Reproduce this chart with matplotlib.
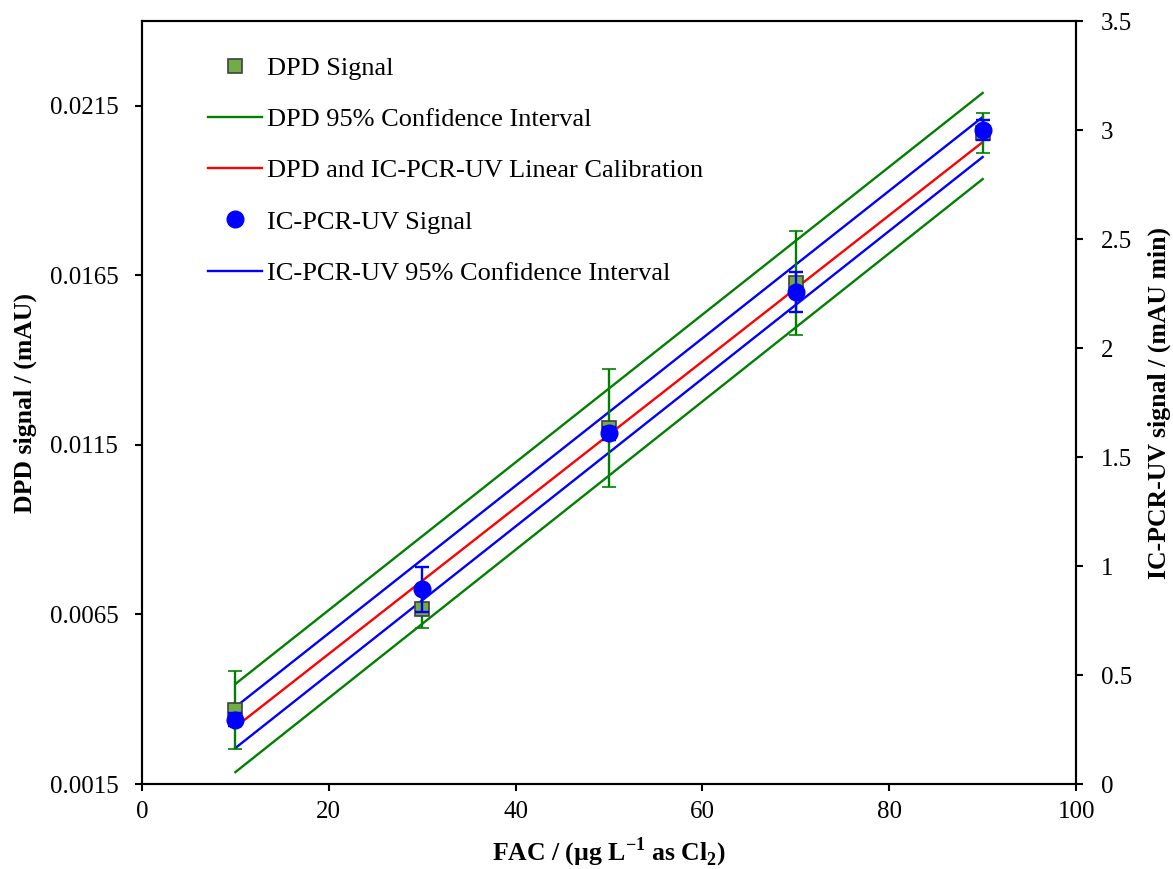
import matplotlib
matplotlib.use("Agg")
import matplotlib.pyplot as plt
from matplotlib.lines import Line2D
from matplotlib.ticker import FuncFormatter

plt.rcParams['font.family'] = ['Liberation Serif', 'DejaVu Serif']
plt.rcParams['mathtext.fontset'] = 'custom'
plt.rcParams['mathtext.rm'] = 'Liberation Serif'
plt.rcParams['mathtext.bf'] = 'Liberation Serif:bold'

# Дані
fac = [10, 30, 50, 70, 90]
dpd_signal = [0.00368, 0.00666, 0.0120, 0.01627, 0.0207]
dpd_err = [0.00114, 0.00055, 0.00174, 0.00153, 0.00058]
ic_signal = [0.294, 0.894, 1.61, 2.257, 3.0]
ic_err = [0.03, 0.103, 0.03, 0.092, 0.044]

# Лінії калібрування (в одиницях лівої осі), кінці при x = 10 та 90
line_x = [10, 90]
red_fit = [0.00318, 0.02043]
dpd_ci_upper = [0.00445, 0.02188]
dpd_ci_lower = [0.00185, 0.01934]
ic_ci_upper = [0.00377, 0.02117]
ic_ci_lower = [0.00256, 0.01999]

GREEN = '#008000'
BLUE = '#0000FF'
RED = '#FF0000'
SQ_FILL = '#70AD47'

fig = plt.figure(figsize=(11.73, 8.69), dpi=100)
ax = fig.add_axes([0.121, 0.0978, 0.7964, 0.878])
ax2 = ax.twinx()

ax.plot(line_x, dpd_ci_upper, color=GREEN, lw=1.7)
ax.plot(line_x, dpd_ci_lower, color=GREEN, lw=1.7)
ax.plot(line_x, ic_ci_upper, color=BLUE, lw=1.7)
ax.plot(line_x, ic_ci_lower, color=BLUE, lw=1.7)
ax.plot(line_x, red_fit, color=RED, lw=1.7)

ax.errorbar(fac, dpd_signal, yerr=dpd_err, fmt='s', color=GREEN,
            mfc=SQ_FILL, mec='#404040', ms=10.5, mew=1.2,
            ecolor=GREEN, elinewidth=1.7, capsize=5, capthick=1.7)
ax2.errorbar(fac, ic_signal, yerr=ic_err, fmt='o', color=BLUE,
             mfc=BLUE, mec=BLUE, ms=12,
             ecolor=BLUE, elinewidth=1.7, capsize=5, capthick=1.7)

# Осі
ax.set_xlim(0, 100)
ax.set_xticks(range(0, 101, 20))
ax.set_ylim(0.0015, 0.024)
ax.set_yticks([0.0015, 0.0065, 0.0115, 0.0165, 0.0215])
ax.yaxis.set_major_formatter(FuncFormatter(lambda v, p: f"{v:.4f}"))
ax2.set_ylim(0, 3.5)
ax2.set_yticks([0, 0.5, 1, 1.5, 2, 2.5, 3, 3.5])
ax2.yaxis.set_major_formatter(FuncFormatter(lambda v, p: f"{v:g}"))

for a in (ax, ax2):
    for sp in a.spines.values():
        sp.set_linewidth(1.5)
    a.tick_params(direction='out', length=5, width=1.5, labelsize=18)
ax.tick_params(axis='x', pad=7)
ax.tick_params(axis='y', pad=12)
ax2.tick_params(axis='y', pad=13)

ax.set_xlabel("FAC / (µg L$^{\\mathbf{-1}}$ as Cl$_{\\mathbf{2}}$)",
              fontsize=18.5, fontweight='bold', labelpad=9)
ax.set_ylabel("DPD signal / (mAU)", fontsize=18.5, fontweight='bold', labelpad=9)
ax2.set_ylabel("IC-PCR-UV signal / (mAU min)", fontsize=18.5, fontweight='bold',
               labelpad=11)

handles = [
    Line2D([], [], ls='none', marker='s', mfc=SQ_FILL, mec='#404040', ms=10.5, mew=1.2),
    Line2D([], [], color=GREEN, lw=1.7),
    Line2D([], [], color=RED, lw=1.7),
    Line2D([], [], ls='none', marker='o', mfc=BLUE, mec=BLUE, ms=12),
    Line2D([], [], color=BLUE, lw=1.7),
]
labels = ["DPD Signal", "DPD 95% Confidence Interval",
          "DPD and IC-PCR-UV Linear Calibration", "IC-PCR-UV Signal",
          "IC-PCR-UV 95% Confidence Interval"]
ax2.legend(handles, labels, loc='upper left', bbox_to_anchor=(0.168, 0.947),
           bbox_transform=fig.transFigure, frameon=False, fontsize=19,
           handlelength=2.05, handletextpad=0.2, labelspacing=1.05,
           borderaxespad=0)

fig.savefig("out.png", dpi=100)
